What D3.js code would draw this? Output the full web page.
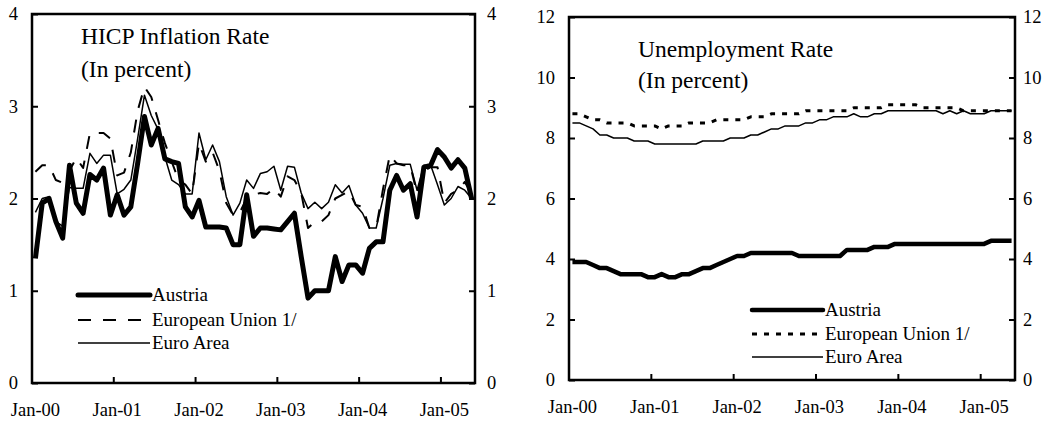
<!DOCTYPE html>
<html>
<head>
<meta charset="utf-8">
<script src="https://cdn.jsdelivr.net/npm/d3@7"></script>
<style>
  body { margin: 0; background: #fff; }
  svg { display: block; }
</style>
</head>
<body>
<svg id="grafico"></svg>
<script>
// months Jan-00 .. May-05 (65 categories)
const categories = d3.timeMonths(new Date(2000, 0, 1), new Date(2005, 5, 1)).map(d3.timeFormat('%b-%y'));
const tickLabels = ['Jan-00', 'Jan-01', 'Jan-02', 'Jan-03', 'Jan-04', 'Jan-05'];

const hicpTicks = [0, 1, 2, 3, 4];
const unempTicks = [0, 2, 4, 6, 8, 10, 12];

const legendNames = ['Austria', 'European Union 1/', 'Euro Area'];

// HICP inflation, percent
const austriaHicp = [
  1.35, 1.95, 2.00, 1.75, 1.57, 2.36, 1.95, 1.84, 2.26, 2.20, 2.33, 1.82,
  2.04, 1.82, 1.91, 2.38, 2.89, 2.58, 2.76, 2.43, 2.40, 2.38, 1.91, 1.80,
  1.98, 1.69, 1.69, 1.69, 1.68, 1.50, 1.50, 2.04, 1.59, 1.68, 1.68, 1.67,
  1.66, 1.75, 1.84, 1.37, 0.92, 1.00, 1.00, 1.00, 1.37, 1.10, 1.28, 1.28,
  1.19, 1.46, 1.53, 1.53, 2.09, 2.25, 2.09, 2.16, 1.80, 2.34, 2.36, 2.53,
  2.45, 2.33, 2.42, 2.33, 2.00
];
const euHicp = [
  2.29, 2.36, 2.36, 2.20, 2.17, 2.30, 2.44, 2.33, 2.71, 2.71, 2.71, 2.65,
  2.25, 2.28, 2.50, 2.95, 3.21, 3.10, 2.85, 2.60, 2.40, 2.20, 2.15, 2.05,
  2.60, 2.40, 2.50, 2.30, 1.95, 1.82, 1.85, 2.00, 2.04, 2.06, 2.05, 2.11,
  2.02, 2.24, 2.20, 2.06, 1.68, 1.75, 1.75, 1.82, 2.00, 2.04, 2.08, 1.93,
  1.91, 1.68, 1.68, 2.10, 2.47, 2.38, 2.36, 2.36, 2.05, 2.30, 2.34, 2.34,
  1.95, 2.05, 2.09, 2.18, 2.05
];
const euroHicp = [
  1.85, 2.00, 2.02, 1.75, 1.70, 2.12, 2.11, 2.11, 2.49, 2.38, 2.47, 2.47,
  2.05, 2.10, 2.20, 2.65, 3.12, 2.90, 2.75, 2.45, 2.20, 2.15, 2.05, 2.05,
  2.71, 2.42, 2.58, 2.40, 2.02, 1.82, 1.95, 2.20, 2.11, 2.27, 2.29, 2.35,
  2.09, 2.35, 2.34, 2.06, 1.89, 1.96, 1.89, 1.96, 2.15, 2.06, 2.14, 1.93,
  1.84, 1.68, 1.68, 2.00, 2.36, 2.38, 2.37, 2.37, 2.09, 2.36, 2.36, 2.15,
  1.93, 2.00, 2.13, 2.09, 2.00
];

// unemployment rate, percent
const austriaUnemp = [
  3.9, 3.9, 3.9, 3.8, 3.7, 3.7, 3.6, 3.5, 3.5, 3.5, 3.5, 3.4,
  3.4, 3.5, 3.4, 3.4, 3.5, 3.5, 3.6, 3.7, 3.7, 3.8, 3.9, 4.0,
  4.1, 4.1, 4.2, 4.2, 4.2, 4.2, 4.2, 4.2, 4.2, 4.1, 4.1, 4.1,
  4.1, 4.1, 4.1, 4.1, 4.3, 4.3, 4.3, 4.3, 4.4, 4.4, 4.4, 4.5,
  4.5, 4.5, 4.5, 4.5, 4.5, 4.5, 4.5, 4.5, 4.5, 4.5, 4.5, 4.5,
  4.5, 4.6, 4.6, 4.6, 4.6
];
const euUnemp = [
  8.8, 8.8, 8.7, 8.6, 8.6, 8.5, 8.5, 8.5, 8.5, 8.4, 8.4, 8.4,
  8.4, 8.3, 8.4, 8.4, 8.4, 8.5, 8.5, 8.5, 8.5, 8.6, 8.6, 8.6,
  8.6, 8.6, 8.7, 8.7, 8.7, 8.8, 8.8, 8.8, 8.8, 8.8, 8.9, 8.9,
  8.9, 8.9, 8.9, 8.9, 8.9, 9.0, 9.0, 9.0, 9.0, 9.0, 9.1, 9.1,
  9.1, 9.1, 9.1, 9.0, 9.0, 9.0, 9.0, 9.0, 9.0, 8.9, 8.9, 8.9,
  8.9, 8.9, 8.9, 8.9, 8.9
];
const euroUnemp = [
  8.5, 8.5, 8.4, 8.3, 8.1, 8.1, 8.0, 8.0, 8.0, 7.9, 7.9, 7.9,
  7.8, 7.8, 7.8, 7.8, 7.8, 7.8, 7.8, 7.9, 7.9, 7.9, 7.9, 8.0,
  8.0, 8.0, 8.1, 8.1, 8.2, 8.3, 8.3, 8.4, 8.4, 8.4, 8.5, 8.5,
  8.6, 8.6, 8.7, 8.7, 8.7, 8.8, 8.7, 8.7, 8.8, 8.8, 8.9, 8.9,
  8.9, 8.9, 8.9, 8.9, 8.9, 8.9, 8.8, 8.9, 8.8, 8.9, 8.8, 8.8,
  8.8, 8.9, 8.9, 8.9, 8.9
];

const fonte = '"Liberation Serif", "Times New Roman", serif';

let svg = d3.select('#grafico')
  .attr('width', 1052)
  .attr('height', 424);

svg.append('rect').attr('width', 1052).attr('height', 424).attr('fill', '#fff');

function painel(p) {
  let g = svg.append('g');

  let x = d3.scaleBand().domain(categories).range([p.left, p.right]);
  let meio = c => x(c) + x.bandwidth() / 2;
  let y = d3.scaleLinear().domain([0, p.yMax]).range([p.bottom, p.top]);

  // series
  p.series.forEach(s => {
    let linha = d3.line()
      .x((d, i) => meio(categories[i]))
      .y(d => y(d));
    g.append('path')
      .datum(s.values)
      .attr('d', linha)
      .attr('fill', 'none')
      .attr('stroke', '#000')
      .attr('stroke-width', s.width)
      .attr('stroke-dasharray', s.dash)
      .attr('stroke-linejoin', 'round');
  });

  // frame
  g.append('rect')
    .attr('x', p.left).attr('y', p.top)
    .attr('width', p.right - p.left).attr('height', p.bottom - p.top)
    .attr('fill', 'none').attr('stroke', '#000').attr('stroke-width', 2.5);

  // y axes, ticks pointing inward
  let fmt = d3.format('d');
  let eixoE = g.append('g')
    .attr('transform', 'translate(' + p.left + ',0)')
    .call(d3.axisLeft(y).tickValues(p.yTicks).tickFormat(fmt)
      .tickSizeInner(-6).tickSizeOuter(0).tickPadding(p.padLeft));
  let eixoD = g.append('g')
    .attr('transform', 'translate(' + p.right + ',0)')
    .call(d3.axisRight(y).tickValues(p.yTicks).tickFormat(fmt)
      .tickSizeInner(-6).tickSizeOuter(0).tickPadding(p.padRight));

  // x axis labels centred on the January category
  let eixoX = g.append('g')
    .attr('transform', 'translate(0,' + p.bottom + ')')
    .call(d3.axisBottom(x).tickValues(tickLabels).tickSize(0).tickPadding(20));

  // x tick marks sit on the category boundary before January
  g.selectAll('.marcaX')
    .data(tickLabels.slice(1))
    .enter()
    .append('line')
    .classed('marcaX', true)
    .attr('x1', d => x(d)).attr('x2', d => x(d))
    .attr('y1', p.bottom).attr('y2', p.bottom - 6)
    .attr('stroke', '#000').attr('stroke-width', 2);

  [eixoE, eixoD, eixoX].forEach(e => {
    e.select('.domain').remove();
    e.attr('font-family', fonte).attr('font-size', 18.5);
    e.selectAll('line').attr('stroke-width', 2);
    e.selectAll('text').attr('fill', '#000');
  });

  // title
  p.title.forEach((t, i) => {
    g.append('text')
      .text(t)
      .attr('x', p.titleX)
      .attr('y', p.titleY + i * p.titleGap)
      .attr('font-family', fonte)
      .attr('font-size', 23.5)
      .attr('fill', '#000');
  });

  // legend
  p.series.forEach((s, i) => {
    let ly = p.legendY[i];
    g.append('line')
      .attr('x1', p.legendX[0]).attr('x2', p.legendX[1])
      .attr('y1', ly).attr('y2', ly)
      .attr('stroke', '#000')
      .attr('stroke-width', s.width)
      .attr('stroke-dasharray', s.dash)
      .attr('stroke-linecap', i === 0 ? 'round' : 'butt');
    g.append('text')
      .text(legendNames[i])
      .attr('x', p.legendX[1] + 2)
      .attr('y', ly + 6)
      .attr('font-family', fonte)
      .attr('font-size', 19)
      .attr('fill', '#000');
  });
}

painel({
  left: 32, right: 475, top: 14, bottom: 383,
  yMax: 4, yTicks: hicpTicks, padLeft: 14, padRight: 12,
  title: ['HICP Inflation Rate', '(In percent)'],
  titleX: 81, titleY: 44, titleGap: 33,
  legendX: [78, 150], legendY: [295, 320, 343],
  series: [
    { values: austriaHicp, width: 5, dash: null },
    { values: euHicp, width: 2, dash: '13,12' },
    { values: euroHicp, width: 1.5, dash: null }
  ]
});

painel({
  left: 569, right: 1015, top: 17, bottom: 380,
  yMax: 12, yTicks: unempTicks, padLeft: 14, padRight: 8,
  title: ['Unemployment Rate', '(In percent)'],
  titleX: 638, titleY: 57, titleGap: 31,
  legendX: [752, 823], legendY: [310, 334, 357],
  series: [
    { values: austriaUnemp, width: 4.5, dash: null },
    { values: euUnemp, width: 3, dash: '5,7' },
    { values: euroUnemp, width: 1.5, dash: null }
  ]
});
</script>
</body>
</html>
